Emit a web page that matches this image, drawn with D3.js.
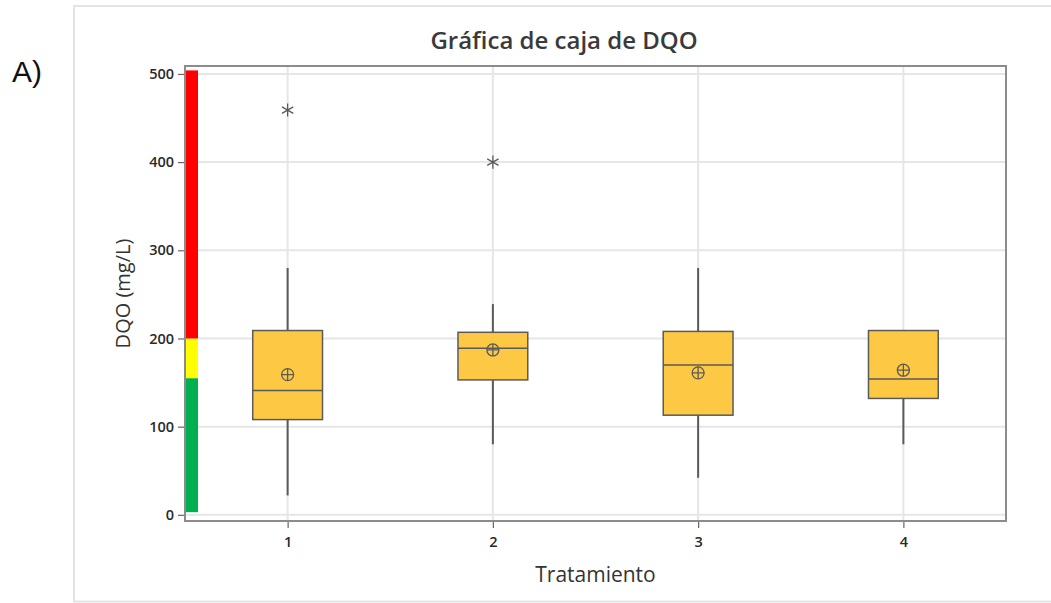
<!DOCTYPE html>
<html>
<head>
<meta charset="utf-8">
<script src="https://cdn.jsdelivr.net/npm/d3@7"></script>
<style>
  body { margin: 0; background: #fff; }
  svg { display: block; }
</style>
</head>
<body>
<svg id="chart" width="1051" height="603"></svg>
<script>
// Box plot summary per treatment (DQO, mg/L)
const treatments  = [1, 2, 3, 4];
const whiskerLow  = [22, 80, 42, 80];
const q1          = [108, 153, 113, 132];
const median      = [141, 189, 170, 154];
const q3          = [209, 207, 208, 209];
const whiskerHigh = [280, 239, 280, 209];
const means       = [159, 187, 161, 164];
const outliers    = [[459], [400], [], []];

// Axis ticks
const yTicks = [0, 100, 200, 300, 400, 500];

// Quality bands drawn beside the y axis
const bandLow    = [3, 155, 200];
const bandHigh   = [155, 200, 504];
const bandColors = ["#00b050", "#ffff00", "#ff0000"];

const svg = d3.select("#chart");
const font = "'Open Sans', 'Noto Sans', sans-serif";

const plot = { left: 185, right: 1006, top: 66, bottom: 521 };
const x = d3.scaleLinear().domain([0.5, 4.5]).range([plot.left, plot.right]);
const y = d3.scaleLinear().domain([-7, 509]).range([plot.bottom, plot.top]);
const halfBox = 0.17;

// Outer panel border
svg.append("rect")
  .attr("x", 74).attr("y", 6).attr("width", 980).attr("height", 595.5)
  .attr("fill", "none").attr("stroke", "#e4e4e4").attr("stroke-width", 2);

// Panel tag
svg.append("text")
  .attr("x", 12).attr("y", 82)
  .attr("font-family", "'Liberation Sans', Arial, sans-serif")
  .attr("font-size", 30).attr("fill", "#111")
  .text("A)");

// Title
svg.append("text")
  .attr("x", 564).attr("y", 49)
  .attr("text-anchor", "middle")
  .attr("font-family", font).attr("font-weight", 600)
  .attr("font-size", 24).attr("fill", "#3a3a3a")
  .text("Gráfica de caja de DQO");

// Gridlines
const grid = svg.append("g");
grid.selectAll("line.gy").data(yTicks).join("line")
  .attr("x1", plot.left).attr("x2", plot.right)
  .attr("y1", d => y(d)).attr("y2", d => y(d))
  .attr("stroke", "#e6e6e6").attr("stroke-width", 2);
grid.selectAll("line.gx").data(treatments).join("line")
  .attr("y1", plot.top).attr("y2", plot.bottom)
  .attr("x1", d => x(d)).attr("x2", d => x(d))
  .attr("stroke", "#e6e6e6").attr("stroke-width", 2);

// Colour bands
svg.append("g").selectAll("rect").data(bandLow).join("rect")
  .attr("x", 186).attr("width", 12)
  .attr("y", (d, i) => y(bandHigh[i]))
  .attr("height", (d, i) => y(d) - y(bandHigh[i]))
  .attr("fill", (d, i) => bandColors[i]);

// Boxes
const boxes = svg.append("g").selectAll("g").data(treatments).join("g");
const stroke = "#5a5a5a";

boxes.append("line")
  .attr("x1", d => x(d)).attr("x2", d => x(d))
  .attr("y1", (d, i) => y(q3[i])).attr("y2", (d, i) => y(whiskerHigh[i]))
  .attr("stroke", stroke).attr("stroke-width", 2);
boxes.append("line")
  .attr("x1", d => x(d)).attr("x2", d => x(d))
  .attr("y1", (d, i) => y(q1[i])).attr("y2", (d, i) => y(whiskerLow[i]))
  .attr("stroke", stroke).attr("stroke-width", 2);
boxes.append("rect")
  .attr("x", d => x(d - halfBox))
  .attr("width", d => x(d + halfBox) - x(d - halfBox))
  .attr("y", (d, i) => y(q3[i]))
  .attr("height", (d, i) => y(q1[i]) - y(q3[i]))
  .attr("fill", "#fdc944").attr("stroke", stroke).attr("stroke-width", 1.5);
boxes.append("line")
  .attr("x1", d => x(d - halfBox)).attr("x2", d => x(d + halfBox))
  .attr("y1", (d, i) => y(median[i])).attr("y2", (d, i) => y(median[i]))
  .attr("stroke", stroke).attr("stroke-width", 1.5);

// Mean markers: circle with crosshair
const meanG = boxes.append("g")
  .attr("transform", (d, i) => `translate(${x(d)},${y(means[i])})`);
meanG.append("circle").attr("r", 6)
  .attr("fill", "none").attr("stroke", stroke).attr("stroke-width", 1.3);
meanG.append("path").attr("d", "M-6,0H6M0,-6V6")
  .attr("stroke", stroke).attr("stroke-width", 1.3);

// Outliers
const star = d3.symbol().type(d3.symbolAsterisk).size(120);
boxes.each(function (d, i) {
  d3.select(this).selectAll("path.out").data(outliers[i]).join("path")
    .attr("class", "out")
    .attr("d", star)
    .attr("transform", v => `translate(${x(d)},${y(v)})`)
    .attr("fill", "none").attr("stroke", stroke).attr("stroke-width", 1.3);
});

// Plot frame
svg.append("rect")
  .attr("x", plot.left).attr("y", plot.top)
  .attr("width", plot.right - plot.left).attr("height", plot.bottom - plot.top)
  .attr("fill", "none").attr("stroke", "#8c8c8c").attr("stroke-width", 2);

// Axes
const yAxis = svg.append("g")
  .attr("transform", `translate(${plot.left - 1},0)`)
  .call(d3.axisLeft(y).tickValues(yTicks).tickSize(6).tickPadding(4));
const xAxis = svg.append("g")
  .attr("transform", `translate(0,${plot.bottom + 1})`)
  .call(d3.axisBottom(x).tickValues(treatments).tickFormat(d3.format("d"))
    .tickSize(6).tickPadding(9));
[yAxis, xAxis].forEach(a => {
  a.select(".domain").remove();
  a.selectAll(".tick line").attr("stroke", "#666").attr("stroke-width", 1.2);
  a.selectAll(".tick text")
    .attr("font-family", font).attr("font-weight", 600)
    .attr("font-size", 14.5).attr("fill", "#2a2a2a");
});

// Axis titles
svg.append("text")
  .attr("transform", `translate(130,${(plot.top + plot.bottom) / 2}) rotate(-90)`)
  .attr("text-anchor", "middle")
  .attr("font-family", font).attr("font-weight", 500)
  .attr("font-size", 20).attr("fill", "#333")
  .text("DQO (mg/L)");
svg.append("text")
  .attr("x", (plot.left + plot.right) / 2).attr("y", 582)
  .attr("text-anchor", "middle")
  .attr("font-family", font).attr("font-weight", 500)
  .attr("font-size", 21).attr("fill", "#333")
  .text("Tratamiento");
</script>
</body>
</html>
